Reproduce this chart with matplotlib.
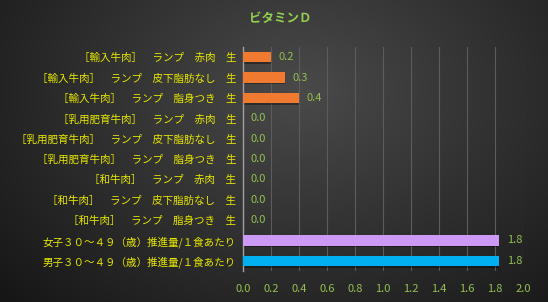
import numpy as np
import matplotlib
matplotlib.use("Agg")
from matplotlib import pyplot as plt

plt.rcParams['font.family'] = ['Noto Sans CJK JP', 'DejaVu Sans']

# data (top to bottom)
labels = [
    "［輸入牛肉］　ランプ　赤肉　生",
    "［輸入牛肉］　ランプ　皮下脂肪なし　生",
    "［輸入牛肉］　ランプ　脂身つき　生",
    "［乳用肥育牛肉］　ランプ　赤肉　生",
    "［乳用肥育牛肉］　ランプ　皮下脂肪なし　生",
    "［乳用肥育牛肉］　ランプ　脂身つき　生",
    "［和牛肉］　ランプ　赤肉　生",
    "［和牛肉］　ランプ　皮下脂肪なし　生",
    "［和牛肉］　ランプ　脂身つき　生",
    "女子３０～４９（歳）推進量/１食あたり",
    "男子３０～４９（歳）推進量/１食あたり",
]
values = [0.2, 0.3, 0.4, 0.0, 0.0, 0.0, 0.0, 0.0, 0.0, 1.83, 1.83]
colors = ["#F07A30"] * 9 + ["#CC99F5", "#00B0F0"]
xticks = [0.0, 0.2, 0.4, 0.6, 0.8, 1.0, 1.2, 1.4, 1.6, 1.8, 2.0]

W, H = 548, 302
fig = plt.figure(figsize=(W / 100, H / 100), dpi=100)

# radial gradient background
bg = fig.add_axes([0, 0, 1, 1])
yy, xx = np.mgrid[0:H, 0:W]
d = np.sqrt(((xx - W * 0.55) / (W * 0.62)) ** 2 + ((yy - H * 0.3) / (H * 0.85)) ** 2)
lev = np.clip(0.29 - 0.17 * d, 0.09, 0.3)
bg.imshow(np.dstack([lev, lev, lev]), aspect='auto', extent=[0, 1, 0, 1])
bg.axis('off')

ax = fig.add_axes([243 / W, 1 - 271 / H, 280 / W, 224 / H])
ax.patch.set_alpha(0)
y = np.arange(len(labels))
ax.barh(y + 0.08, values, height=0.5, color="#000000", alpha=0.35, zorder=2)
ax.barh(y, values, height=0.5, color=colors, zorder=3)

ax.set_xlim(0, 2.0)
ax.set_ylim(len(labels) - 0.5, -0.5)
ax.set_xticks(xticks)
ax.set_xticklabels([f"{t:.1f}" for t in xticks], color="#92C050", fontsize=8)
ax.set_yticks(y)
ax.set_yticklabels(labels, color="#E8E800", fontsize=7.6)
ax.tick_params(axis='x', length=0, pad=9)
ax.tick_params(axis='y', length=0, pad=5)
ax.grid(axis='x', color="#5c5c5c", linewidth=0.8, zorder=0)
for s in ["top", "right", "bottom"]:
    ax.spines[s].set_visible(False)
ax.spines["left"].set_color("#a0a0a0")
ax.spines["left"].set_linewidth(1)

for yi, v in zip(y, values):
    ax.text(v + 0.055, yi, f"{v:.1f}", va='center', ha='left', color="#92C050", fontsize=8, zorder=4)

fig.text(280 / W, 1 - 18 / H, "ビタミンＤ", ha='center', va='center', color="#92D050",
         fontsize=9, fontweight='bold')

fig.savefig("out.png", dpi=100)
